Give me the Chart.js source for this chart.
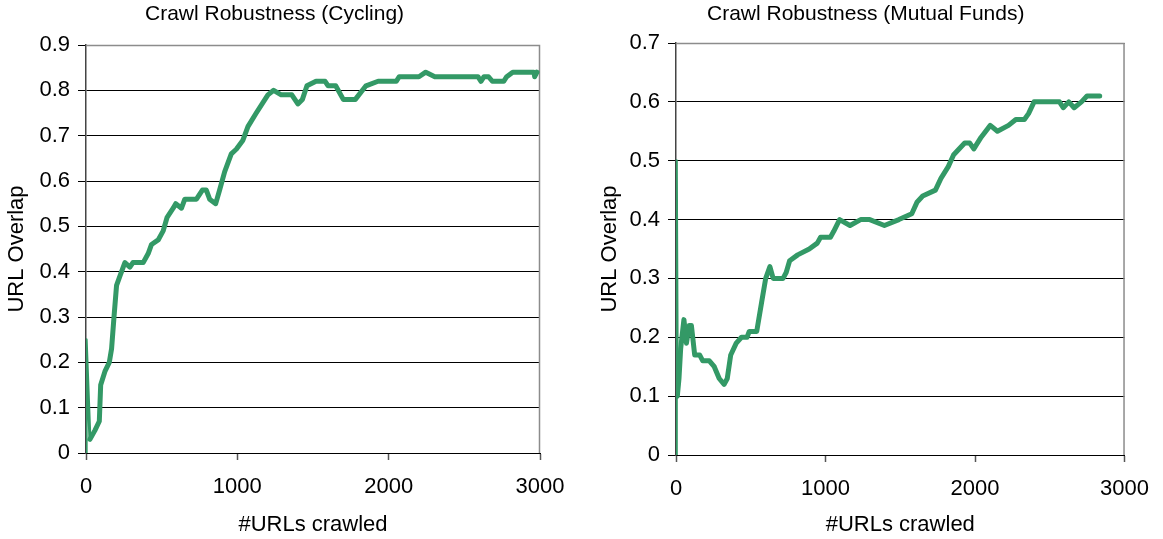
<!DOCTYPE html>
<html lang="en">
<head>
    <meta charset="UTF-8">
    <title>Crawl Robustness</title>
    <script src="https://cdn.jsdelivr.net/npm/chart.js"></script>
    <style>
        body {
            margin: 0;
            background-color: #ffffff;
            font-family: "Liberation Sans", Arial, sans-serif;
        }

        .chart-box {
            position: absolute;
            top: 0;
            height: 539px;
        }
    </style>
</head>
<body>
    <div class="chart-box" style="left: 0; width: 581px;">
        <canvas id="cyclingChart" width="581" height="539"></canvas>
    </div>
    <div class="chart-box" style="left: 581px; width: 582px;">
        <canvas id="fundsChart" width="582" height="539"></canvas>
    </div>

    <script>
        // values
        const cyclingUrls = [0, 1, 26, 59, 88, 97, 125, 154, 169, 185, 202, 224, 246, 257, 290, 310, 378, 411, 433, 477, 510, 536, 576, 593, 631, 653, 730, 769, 795, 817, 857, 883, 916, 960, 993, 1037, 1070, 1125, 1202, 1240, 1290, 1360, 1400, 1430, 1460, 1520, 1580, 1600, 1650, 1700, 1780, 1850, 1930, 2050, 2070, 2200, 2245, 2305, 2590, 2610, 2630, 2660, 2685, 2760, 2780, 2820, 2960, 2965, 2980];
        const cyclingOverlap = [0, 0.25, 0.03, 0.05, 0.07, 0.15, 0.18, 0.2, 0.23, 0.3, 0.37, 0.39, 0.41, 0.42, 0.41, 0.42, 0.42, 0.44, 0.46, 0.47, 0.49, 0.52, 0.54, 0.55, 0.54, 0.56, 0.56, 0.58, 0.58, 0.56, 0.55, 0.58, 0.62, 0.66, 0.67, 0.69, 0.72, 0.75, 0.79, 0.8, 0.79, 0.79, 0.77, 0.78, 0.81, 0.82, 0.82, 0.81, 0.81, 0.78, 0.78, 0.81, 0.82, 0.82, 0.83, 0.83, 0.84, 0.83, 0.83, 0.82, 0.83, 0.83, 0.82, 0.82, 0.83, 0.84, 0.84, 0.83, 0.84];

        const fundsUrls = [0, 2, 9, 20, 31, 44, 53, 70, 88, 103, 125, 158, 179, 223, 256, 289, 322, 343, 366, 403, 438, 475, 490, 540, 573, 600, 628, 650, 716, 737, 760, 814, 891, 945, 967, 1033, 1055, 1094, 1164, 1235, 1296, 1394, 1491, 1577, 1613, 1650, 1735, 1772, 1821, 1857, 1931, 1965, 1992, 2041, 2102, 2150, 2224, 2273, 2330, 2358, 2395, 2565, 2590, 2627, 2663, 2712, 2749, 2834];
        const fundsOverlap = [0, 0.5, 0.1, 0.13, 0.18, 0.21, 0.23, 0.19, 0.22, 0.22, 0.17, 0.17, 0.16, 0.16, 0.15, 0.13, 0.12, 0.13, 0.17, 0.19, 0.2, 0.2, 0.21, 0.21, 0.26, 0.3, 0.32, 0.3, 0.3, 0.31, 0.33, 0.34, 0.35, 0.36, 0.37, 0.37, 0.38, 0.4, 0.39, 0.4, 0.4, 0.39, 0.4, 0.41, 0.43, 0.44, 0.45, 0.47, 0.49, 0.51, 0.53, 0.53, 0.52, 0.54, 0.56, 0.55, 0.56, 0.57, 0.57, 0.58, 0.6, 0.6, 0.59, 0.6, 0.59, 0.6, 0.61, 0.61];

        const xTicks = [0, 1000, 2000, 3000];
        const lineColor = '#339966';
        const fontName = '"Liberation Sans", Arial, sans-serif';

        // gray frame on top/right of plot + the chart title
        const framePlugin = {
            id: 'frame',
            beforeDatasetsDraw(chart) {
                const a = chart.chartArea;
                const ctx = chart.ctx;
                ctx.save();
                ctx.strokeStyle = '#8c8c8c';
                ctx.lineWidth = 1.5;
                ctx.beginPath();
                ctx.moveTo(a.left, a.top + 0.5);
                ctx.lineTo(a.right - 0.5, a.top + 0.5);
                ctx.lineTo(a.right - 0.5, a.bottom);
                ctx.stroke();
                ctx.restore();
            },
            afterDraw(chart, args, opts) {
                const ctx = chart.ctx;
                ctx.save();
                ctx.font = '21px ' + fontName;
                ctx.fillStyle = '#000';
                ctx.textAlign = 'left';
                ctx.textBaseline = 'middle';
                ctx.fillText(opts.text, opts.x, 14);
                ctx.restore();
            }
        };

        function makeChart(id, urls, overlap, cfg) {
            const points = urls.map((u, i) => ({ x: u, y: overlap[i] }));

            return new Chart(document.getElementById(id).getContext('2d'), {
                type: 'line',
                data: {
                    datasets: [{
                        data: points,
                        borderColor: lineColor,
                        borderWidth: 5,
                        borderJoinStyle: 'round',
                        borderCapStyle: 'round',
                        pointRadius: 0,
                        fill: false,
                        tension: 0,
                        segment: {
                            borderWidth: ctx => ctx.p0DataIndex < 2 ? 3 : 5
                        }
                    }]
                },
                plugins: [framePlugin],
                options: {
                    responsive: false,
                    animation: false,
                    devicePixelRatio: 1,
                    layout: { padding: { top: cfg.top, right: cfg.right, left: 0, bottom: 0 } },
                    plugins: {
                        legend: { display: false },
                        tooltip: { enabled: false },
                        frame: { text: cfg.title, x: cfg.titleX }
                    },
                    scales: {
                        x: {
                            type: 'linear',
                            min: 0,
                            max: 3000,
                            afterBuildTicks: s => { s.ticks = xTicks.map(v => ({ value: v })); },
                            afterFit: s => { s.height = cfg.xHeight; },
                            grid: { drawOnChartArea: false, tickLength: 7, tickColor: '#555', tickWidth: 1.5 },
                            border: { color: '#000', width: 1 },
                            ticks: { color: '#000', padding: 14, maxRotation: 0, callback: v => String(v), font: { family: fontName, size: 22 } },
                            title: { display: true, text: '#URLs crawled', color: '#000', padding: { top: 0, bottom: 1 }, font: { family: fontName, size: 22 } }
                        },
                        y: {
                            min: 0,
                            max: cfg.yMax,
                            ticks: { stepSize: 0.1, color: '#000', padding: 8, font: { family: fontName, size: 22 } },
                            afterFit: s => { s.width = cfg.yWidth; },
                            grid: { color: '#000', lineWidth: 1, tickLength: 8, tickColor: '#000' },
                            border: { color: '#444', width: 1.5 },
                            title: { display: true, text: 'URL Overlap', color: '#000', padding: { top: cfg.yTitlePad, bottom: 0 }, font: { family: fontName, size: 22 } }
                        }
                    }
                }
            });
        }

        makeChart('cyclingChart', cyclingUrls, cyclingOverlap, {
            title: 'Crawl Robustness (Cycling)', titleX: 145,
            top: 45, right: 41, xHeight: 86, yWidth: 86, yMax: 0.9, yTitlePad: 4
        });

        makeChart('fundsChart', fundsUrls, fundsOverlap, {
            title: 'Crawl Robustness (Mutual Funds)', titleX: 126,
            top: 43, right: 30, xHeight: 84, yWidth: 95, yMax: 0.7, yTitlePad: 16
        });
    </script>
</body>
</html>
